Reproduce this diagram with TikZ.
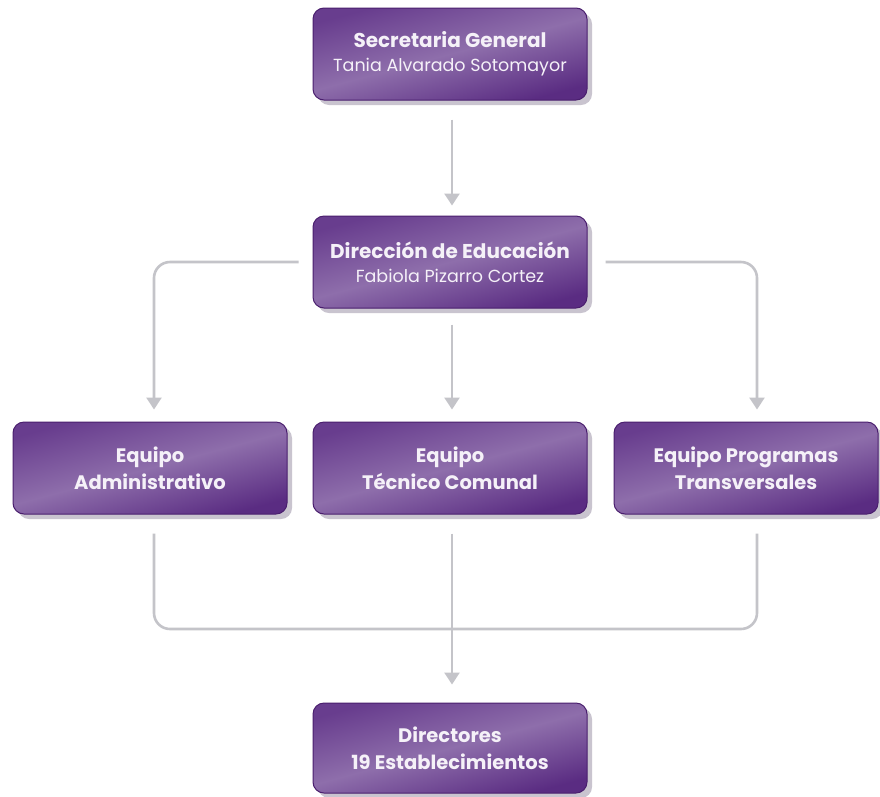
\documentclass[tikz,border=0pt]{standalone}
\usepackage{fontspec}
\setmainfont{Poppins}
\usetikzlibrary{arrows.meta,shadows,positioning}
\definecolor{boxdark}{HTML}{5A2C82}
\definecolor{boxmid}{HTML}{8E6EAB}
\definecolor{boxleft}{HTML}{683D8E}
\definecolor{boxline}{HTML}{4A1F6E}
\definecolor{shadowc}{HTML}{C9C4CF}
\definecolor{linec}{HTML}{C4C4C9}
\definecolor{txtc}{HTML}{F5F1F8}
\begin{document}
\begin{tikzpicture}[x=1pt,y=-1pt,
  orgbox/.style={rectangle, rounded corners=11pt, draw=boxline, line width=1pt,
    left color=boxleft, right color=boxdark, middle color=boxmid, shading angle=15,
    minimum width=274pt, minimum height=92pt, align=center, text=txtc, inner sep=2pt,
    drop shadow={shadow xshift=5pt, shadow yshift=-5pt, fill=shadowc, opacity=1}},
  ttl/.style={font=\fontsize{20}{24}\selectfont\bfseries},
  ttl2/.style={font=\fontsize{19.5}{27}\selectfont\bfseries},
  conn/.style={draw=linec, line width=2.6pt, rounded corners=16pt},
  arr/.style={conn, -{Triangle[width=15pt,length=12pt]}, color=linec}
]
\useasboundingbox (0,0) rectangle (880,796);
\fill[white] (0,0) rectangle (880,796);

\node[orgbox, ttl] (sg) at (450,54) {Secretaria General\\{\fontsize{17.5}{24}\selectfont\mdseries Tania Alvarado Sotomayor}};
\node[orgbox, ttl] (de) at (450,262) {Dirección de Educación\\{\fontsize{17.5}{24}\selectfont\mdseries Fabiola Pizarro Cortez}};
\node[orgbox, ttl2] (ea) at (150,468) {Equipo\\Administrativo};
\node[orgbox, ttl2] (et) at (450,468) {Equipo\\Técnico Comunal};
\node[orgbox, ttl2, minimum width=264pt] (ep) at (746,468) {Equipo Programas\\Transversales};
\node[orgbox, ttl2, minimum height=90pt] (dr) at (450,748) {Directores\\19 Establecimientos};

\coordinate (lstart) at ([xshift=-14pt]de.west);
\coordinate (rstart) at ([xshift=18pt]de.east);
\coordinate (lend) at ([xshift=4pt,yshift=12pt]ea.north);
\coordinate (rend) at ([xshift=11pt,yshift=12pt]ep.north);

\draw[arr] ([xshift=2pt,yshift=-19pt]sg.south) -- ([xshift=2pt,yshift=10pt]de.north);
\draw[arr] (lstart) -| (lend);
\draw[arr] (rstart) -| (rend);
\draw[arr] ([xshift=2pt,yshift=-16pt]de.south) -- ([xshift=2pt,yshift=12pt]et.north);

\coordinate (bl) at ([xshift=4pt,yshift=-19pt]ea.south);
\coordinate (br) at ([xshift=11pt,yshift=-19pt]ep.south);
\coordinate (bbot) at (450,629);
\draw[conn] (bl) |- (bbot) -| (br);
\draw[arr] ([xshift=2pt,yshift=-19pt]et.south) -- ([xshift=2pt,yshift=18pt]dr.north);
\end{tikzpicture}
\end{document}
